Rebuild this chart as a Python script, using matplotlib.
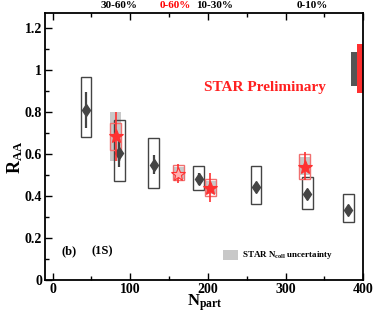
import numpy as np
import matplotlib
matplotlib.use('Agg')
import matplotlib.pyplot as plt
from matplotlib.patches import Rectangle
from matplotlib.ticker import MultipleLocator, FuncFormatter

plt.rcParams['font.family'] = ['Liberation Serif', 'DejaVu Serif']
plt.rcParams['font.weight'] = 'bold'
plt.rcParams['mathtext.fontset'] = 'custom'
plt.rcParams['mathtext.rm'] = 'Liberation Serif:bold'
plt.rcParams['mathtext.bf'] = 'Liberation Serif:bold'
plt.rcParams['mathtext.it'] = 'Liberation Serif:bold'

# model / reference points (dark diamonds)
npart = [43, 86, 130, 188, 262, 328, 381]
raa = [0.81, 0.605, 0.55, 0.48, 0.445, 0.41, 0.335]
raa_err = [0.085, 0.065, 0.045, 0.028, 0.012, 0.02, 0.01]
sys_lo = [0.68, 0.47, 0.44, 0.43, 0.36, 0.34, 0.275]
sys_hi = [0.965, 0.76, 0.675, 0.545, 0.545, 0.49, 0.41]

# STAR points (red stars)
star_npart = [81, 162, 203, 325]
star_raa = [0.685, 0.505, 0.44, 0.54]
star_err_lo = [0.567, 0.46, 0.373, 0.476]
star_err_hi = [0.80, 0.552, 0.508, 0.608]
star_sys_lo = [0.618, 0.476, 0.40, 0.48]
star_sys_hi = [0.746, 0.546, 0.48, 0.60]
ncoll_lo = [0.568, 0.482, 0.41, 0.50]
ncoll_hi = [0.80, 0.54, 0.47, 0.585]

# global uncertainty bars at right edge
glob_gray = [0.925, 1.086]
glob_red = [0.889, 1.124]

cent_labels = ['30-60%', '0-60%', '10-30%', '0-10%']
cent_x = [86, 158, 208, 335]
cent_colors = ['black', 'red', 'black', 'black']

fig = plt.figure(figsize=(3.74, 3.14), dpi=100)
ax = fig.add_axes([0.120, 0.108, 0.851, 0.850])

hw = 7
dark = '#444444'
for x, lo, hi in zip(npart, sys_lo, sys_hi):
    ax.add_patch(Rectangle((x - hw, lo), 2 * hw, hi - lo, fill=False,
                           edgecolor=dark, lw=1.0, zorder=2))
ax.errorbar(npart, raa, yerr=raa_err, fmt='d', color=dark, ms=6.5,
            elinewidth=1.6, capsize=0, zorder=4)

for x, lo, hi in zip(star_npart, ncoll_lo, ncoll_hi):
    ax.add_patch(Rectangle((x - hw, lo), 2 * hw, hi - lo, facecolor='#c8c8c8',
                           edgecolor='none', zorder=1))
for x, lo, hi in zip(star_npart, star_sys_lo, star_sys_hi):
    ax.add_patch(Rectangle((x - hw, lo), 2 * hw, hi - lo, fill=False,
                           edgecolor='#f07070', lw=1.0, zorder=3))
yerr = [np.array(star_raa) - np.array(star_err_lo),
        np.array(star_err_hi) - np.array(star_raa)]
ax.errorbar(star_npart, star_raa, yerr=yerr, fmt='none', ecolor='#ff3030',
            elinewidth=1.2, capsize=0, zorder=5)
face = ['#ff3030', '#ffb0b0', '#ff3030', '#ff3030']
for x, y, fc in zip(star_npart, star_raa, face):
    ax.plot(x, y, marker='*', ms=10, mfc=fc, mec='#ff3030', mew=0.8, zorder=6)

ax.add_patch(Rectangle((384, glob_gray[0]), 8, glob_gray[1] - glob_gray[0],
                       facecolor='#555555', edgecolor='none', zorder=2))
ax.add_patch(Rectangle((392, glob_red[0]), 8, glob_red[1] - glob_red[0],
                       facecolor='#ff3030', edgecolor='none', zorder=2))

ax.set_xlim(-10, 400)
ax.set_ylim(0, 1.27)
ax.xaxis.set_major_locator(MultipleLocator(100))
ax.xaxis.set_minor_locator(MultipleLocator(50))
ax.yaxis.set_major_locator(MultipleLocator(0.2))
ax.yaxis.set_minor_locator(MultipleLocator(0.1))
ax.yaxis.set_major_formatter(FuncFormatter(lambda v, p: ('%.1f' % v).rstrip('0').rstrip('.') if v else '0'))
ax.tick_params(which='both', direction='in', top=True, right=False,
               labelsize=10, width=1, pad=2)
ax.tick_params(which='major', length=5)
ax.tick_params(which='minor', length=3)
for lab in ax.get_xticklabels() + ax.get_yticklabels():
    lab.set_fontweight('bold')
for s in ax.spines.values():
    s.set_linewidth(1.3)

# axis titles placed in figure coordinates
fig.text(0.548, 0.004, r'N$_{\rm part}$', fontsize=12, fontweight='bold',
         ha='center', va='bottom')
fig.text(0.040, 0.50, r'R$_{\rm AA}$', fontsize=13, fontweight='bold',
         ha='center', va='center', rotation=90)

ax.text(273, 0.915, 'STAR Preliminary', color='#ff2020', fontsize=11,
        fontweight='bold', ha='center', va='center')
ax.text(12, 0.135, '(b)', fontsize=9, fontweight='bold', va='center')
ax.text(50, 0.135, '(1S)', fontsize=9, fontweight='bold', va='center')
ax.add_patch(Rectangle((220, 0.095), 19, 0.048, facecolor='#c8c8c8',
                       edgecolor='none'))
ax.text(244, 0.12, r'STAR N$_{\rm coll}$ uncertainty', fontsize=6.5,
        fontweight='bold', va='center')

tr = ax.get_xaxis_transform()
for lab, x, c in zip(cent_labels, cent_x, cent_colors):
    ax.text(x, 1.012, lab, transform=tr, color=c, fontsize=8,
            fontweight='bold', ha='center', va='bottom')

fig.savefig('out.png', dpi=100)
